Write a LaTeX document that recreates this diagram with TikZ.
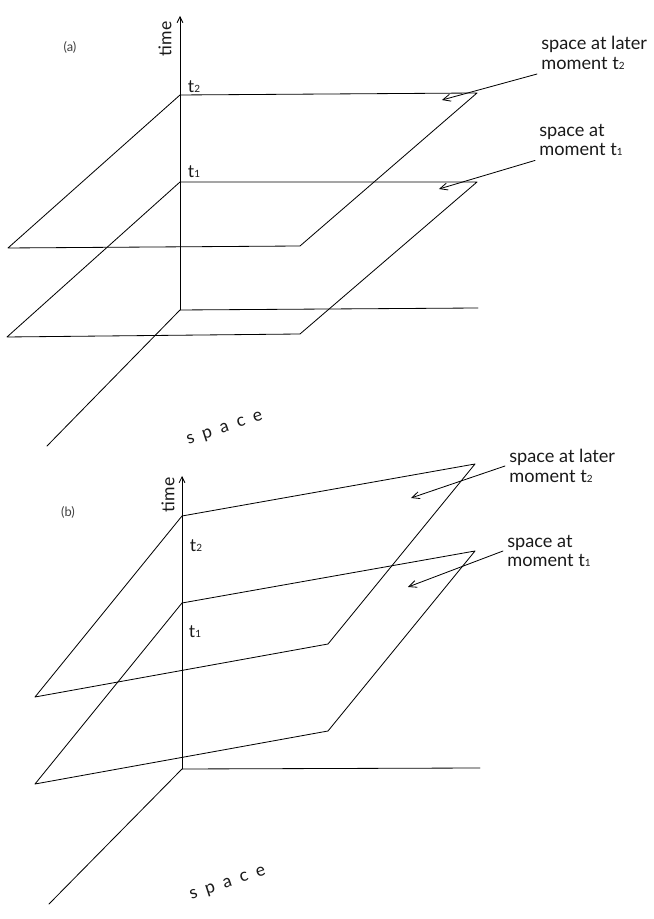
\documentclass[tikz,border=0pt]{standalone}
\usepackage{fontspec}
\setmainfont{Lato}
\usetikzlibrary{arrows.meta}
\newcommand{\tsub}[1]{t{\fontsize{8.5}{8.5}\selectfont #1}}
\newcommand{\lsp}{\hspace{0.5em}}
\tikzset{
	lbl/.style={font=\fontsize{15.5}{17}\selectfont,align=left,anchor=west,text=black!90},
	tlbl/.style={font=\fontsize{15}{17}\selectfont,text=black!90},
	plbl/.style={font=\fontsize{11}{13}\selectfont,text=black!75},
	barb/.style={-{Straight Barb[length=6.5pt,width=6pt]}},
}
\begin{document}
\begin{tikzpicture}[>={Straight Barb[length=5pt,width=5pt]},line join=round,line cap=round,line width=.7pt,scale=3]
	\useasboundingbox (0,0) rectangle (6.53,9.19);
	%======================== (a)
	\draw[->] (1.80,6.09)--(1.80,9.03);
	\draw (4.78,6.11)--(1.80,6.09)--(0.47,4.73);
	\draw (1.80,8.24)--(4.77,8.26)--(3.00,6.73)--(0.08,6.71)--cycle;
	\draw (1.80,7.37)--(4.77,7.37)--(3.00,5.85)--(0.07,5.82)--cycle;
	\node[tlbl,rotate=90] (timea) at (1.65,8.80) {time};
	\node[plbl] (capa) at (0.70,8.72) {(a)};
	\node[tlbl,rotate=18] (spacea) at (2.25,4.90) {s\lsp p\lsp a\lsp c\lsp e};
	\node[tlbl] (t2a) at (1.94,8.32) {\tsub2};
	\node[tlbl] (t1a) at (1.94,7.47) {\tsub1};
	\node[lbl] (later2a) at (5.37,8.66) {space at later\\moment \tsub2};
	\node[lbl] (at1a) at (5.35,7.79) {space at\\moment \tsub1};
	\coordinate (head2a) at (4.42,8.19);
	\coordinate (head1a) at (4.39,7.30);
	\draw[barb] (later2a.south west)--(head2a);
	\draw[barb] (at1a.south west)--(head1a);
	%======================== (b)
	\draw[->] (1.82,1.50)--(1.82,4.43);
	\draw (4.80,1.51)--(1.82,1.50)--(0.49,0.15);
	\draw (1.82,4.03)--(4.75,4.55)--(3.28,2.75)--(0.35,2.22)--cycle;
	\draw (1.82,3.16)--(4.75,3.68)--(3.28,1.88)--(0.35,1.35)--cycle;
	\node[tlbl,rotate=90] (timeb) at (1.68,4.24) {time};
	\node[plbl] (capb) at (0.68,4.07) {(b)};
	\node[tlbl,rotate=18] (spaceb) at (2.28,0.35) {s\lsp p\lsp a\lsp c\lsp e};
	\node[tlbl] (t2b) at (1.96,3.73) {\tsub2};
	\node[tlbl] (t1b) at (1.95,2.87) {\tsub1};
	\node[lbl] (later2b) at (5.05,4.53) {space at later\\moment \tsub2};
	\node[lbl] (at1b) at (5.03,3.68) {space at\\moment \tsub1};
	\coordinate (head2b) at (4.11,4.21);
	\coordinate (head1b) at (4.08,3.32);
	\draw[barb] (later2b.west)--(head2b);
	\draw[barb] (at1b.west)--(head1b);
	%========================
\end{tikzpicture}
\end{document}
